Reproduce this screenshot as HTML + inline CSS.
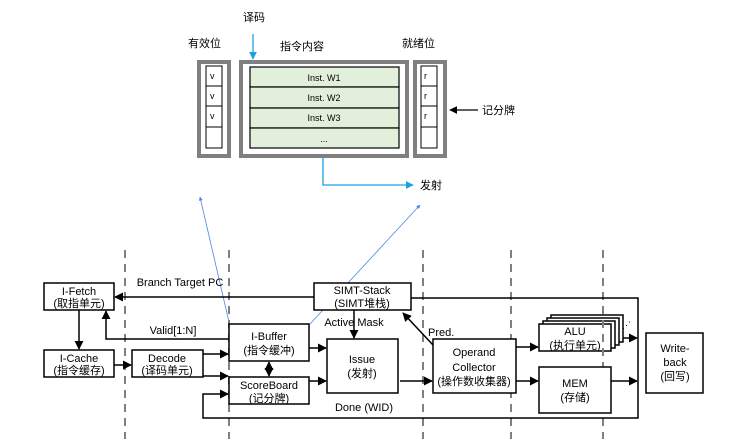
<!DOCTYPE html>
<html><head><meta charset="utf-8"><style>
html,body{margin:0;padding:0;background:#fff;}
svg{display:block;}
text{font-family:"Liberation Sans","Noto Sans CJK SC",sans-serif;fill:#000;}
</style></head><body>
<svg width="741" height="439" viewBox="0 0 741 439" xmlns="http://www.w3.org/2000/svg">
<defs>
<marker id="a" viewBox="0 0 10 10" refX="9" refY="5" markerWidth="6" markerHeight="6" orient="auto-start-reverse"><path d="M0,0 L10,5 L0,10 z" fill="#000"/></marker>
<marker id="b" viewBox="0 0 10 10" refX="9" refY="5" markerWidth="6" markerHeight="6" orient="auto"><path d="M0,0 L10,5 L0,10 z" fill="#1ba1e2"/></marker>
<marker id="c" viewBox="0 0 10 10" refX="9" refY="5" markerWidth="5" markerHeight="5" orient="auto"><path d="M0,0 L10,5 L0,10 z" fill="#4a86e8"/></marker>
</defs>
<!-- top diagram -->
<g font-size="11">
<text x="243" y="21">译码</text>
<text x="188" y="47">有效位</text>
<text x="280" y="50">指令内容</text>
<text x="402" y="47">就绪位</text>
<text x="482" y="114">记分牌</text>
<text x="420" y="189">发射</text>
</g>
<line x1="253" y1="34" x2="253" y2="59" stroke="#1ba1e2" stroke-width="1.3" marker-end="url(#b)"/>
<rect x="199" y="62" width="30" height="94" fill="#fff" stroke="#808080" stroke-width="4"/>
<rect x="241" y="62" width="166" height="94" fill="#fff" stroke="#808080" stroke-width="4"/>
<rect x="415" y="62" width="30" height="94" fill="#fff" stroke="#808080" stroke-width="4"/>
<g fill="#fff" stroke="#000" stroke-width="1">
<rect x="206" y="66" width="16" height="20"/><rect x="206" y="86" width="16" height="20"/><rect x="206" y="106" width="16" height="21"/><rect x="206" y="127" width="16" height="21"/>
<rect x="421" y="66" width="16" height="20"/><rect x="421" y="86" width="16" height="20"/><rect x="421" y="106" width="16" height="21"/><rect x="421" y="127" width="16" height="21"/>
</g>
<g fill="#e2efda" stroke="#000" stroke-width="1.2">
<rect x="250" y="67" width="149" height="20"/><rect x="250" y="87" width="149" height="21"/><rect x="250" y="108" width="149" height="20"/><rect x="250" y="128" width="149" height="20"/>
</g>
<g font-size="9">
<text x="210" y="79">v</text><text x="210" y="99">v</text><text x="210" y="119">v</text>
<text x="424" y="79">r</text><text x="424" y="99">r</text><text x="424" y="119">r</text>
<text x="324" y="81" text-anchor="middle">Inst. W1</text>
<text x="324" y="101" text-anchor="middle">Inst. W2</text>
<text x="324" y="121" text-anchor="middle">Inst. W3</text>
<text x="324" y="142" text-anchor="middle">...</text>
</g>
<line x1="478" y1="110" x2="450" y2="110" stroke="#000" stroke-width="1.3" marker-end="url(#a)"/>
<polyline points="323,157 323,185 413,185" fill="none" stroke="#1ba1e2" stroke-width="1.3" marker-end="url(#b)"/>
<!-- blue thin lines -->
<line x1="229" y1="322" x2="200" y2="197" stroke="#4a86e8" stroke-width="0.8" marker-end="url(#c)"/>
<line x1="310" y1="324" x2="420" y2="205" stroke="#4a86e8" stroke-width="0.8" marker-end="url(#c)"/>
<!-- dashed lines -->
<g stroke="#808080" stroke-width="2" stroke-dasharray="8,6">
<line x1="125" y1="250" x2="125" y2="439"/><line x1="229" y1="250" x2="229" y2="439"/>
<line x1="423" y1="250" x2="423" y2="439"/><line x1="511" y1="250" x2="511" y2="439"/>
<line x1="603" y1="250" x2="603" y2="439"/>
</g>
<!-- connectors -->
<g stroke="#000" stroke-width="1.5" fill="none">
<line x1="314" y1="297" x2="115" y2="297" marker-end="url(#a)"/>
<line x1="79" y1="310" x2="79" y2="349" marker-end="url(#a)"/>
<polyline points="229,339 106,339 106,311" marker-end="url(#a)"/>
<line x1="114" y1="365" x2="131" y2="365" marker-end="url(#a)"/>
<line x1="203" y1="354" x2="228" y2="354" marker-end="url(#a)"/>
<line x1="203" y1="376" x2="228" y2="376" marker-end="url(#a)"/>
<line x1="269" y1="362" x2="269" y2="376" marker-start="url(#a)" marker-end="url(#a)"/>
<line x1="309" y1="348" x2="326" y2="348" marker-end="url(#a)"/>
<line x1="309" y1="381" x2="326" y2="381" marker-end="url(#a)"/>
<line x1="354" y1="310" x2="354" y2="338" marker-end="url(#a)"/>
<line x1="400" y1="381" x2="432" y2="381" marker-end="url(#a)"/>
<line x1="433" y1="345" x2="403" y2="313" marker-end="url(#a)"/>
<line x1="516" y1="347" x2="538" y2="347" marker-end="url(#a)"/>
<line x1="516" y1="381" x2="538" y2="381" marker-end="url(#a)"/>
<line x1="611" y1="338" x2="637" y2="338" marker-end="url(#a)"/>
<line x1="611" y1="381" x2="637" y2="381" marker-end="url(#a)"/>
<polyline points="411,298 638,298 638,418 203,418 203,394 228,394" marker-end="url(#a)"/>
</g>
<!-- boxes -->
<g fill="#fff" stroke="#000" stroke-width="1.5">
<rect x="44" y="283" width="70" height="27"/>
<rect x="44" y="350" width="70" height="27"/>
<rect x="132" y="350" width="71" height="27"/>
<rect x="229" y="324" width="80" height="37"/>
<rect x="229" y="377" width="80" height="27"/>
<rect x="327" y="339" width="71" height="54"/>
<rect x="314" y="283" width="97" height="27"/>
<rect x="433" y="339" width="83" height="54"/>
<rect x="551" y="315" width="72" height="27"/>
<rect x="547" y="318" width="72" height="27"/>
<rect x="543" y="321" width="72" height="27"/>
<rect x="539" y="324" width="72" height="27"/>
<rect x="539" y="367" width="72" height="46"/>
<rect x="646" y="333" width="57" height="60"/>
</g>
<line x1="603" y1="320" x2="603" y2="360" stroke="#808080" stroke-width="2" stroke-dasharray="8,6"/>
<text x="622" y="328" font-size="9">⋰</text>
<g font-size="11" text-anchor="middle">
<text x="79" y="295">I-Fetch</text><text x="79" y="307">(取指单元)</text>
<text x="79" y="362">I-Cache</text><text x="79" y="374">(指令缓存)</text>
<text x="167" y="362">Decode</text><text x="167" y="374">(译码单元)</text>
<text x="269" y="340">I-Buffer</text><text x="269" y="354">(指令缓冲)</text>
<text x="269" y="389">ScoreBoard</text><text x="269" y="402">(记分牌)</text>
<text x="362" y="363">Issue</text><text x="362" y="377">(发射)</text>
<text x="362" y="294">SIMT-Stack</text><text x="362" y="307">(SIMT堆栈)</text>
<text x="474" y="356">Operand</text><text x="474" y="371">Collector</text><text x="474" y="385">(操作数收集器)</text>
<text x="575" y="335">ALU</text><text x="575" y="349">(执行单元)</text>
<text x="575" y="387">MEM</text><text x="575" y="401">(存储)</text>
<text x="675" y="352">Write-</text><text x="675" y="366">back</text><text x="675" y="380">(回写)</text>
<text x="180" y="286">Branch Target PC</text>
<text x="173" y="334">Valid[1:N]</text>
<text x="354" y="326">Active  Mask</text>
<text x="364" y="411">Done (WID)</text>
</g>
<text x="428" y="336" font-size="11">Pred.</text>
</svg>
</body></html>
